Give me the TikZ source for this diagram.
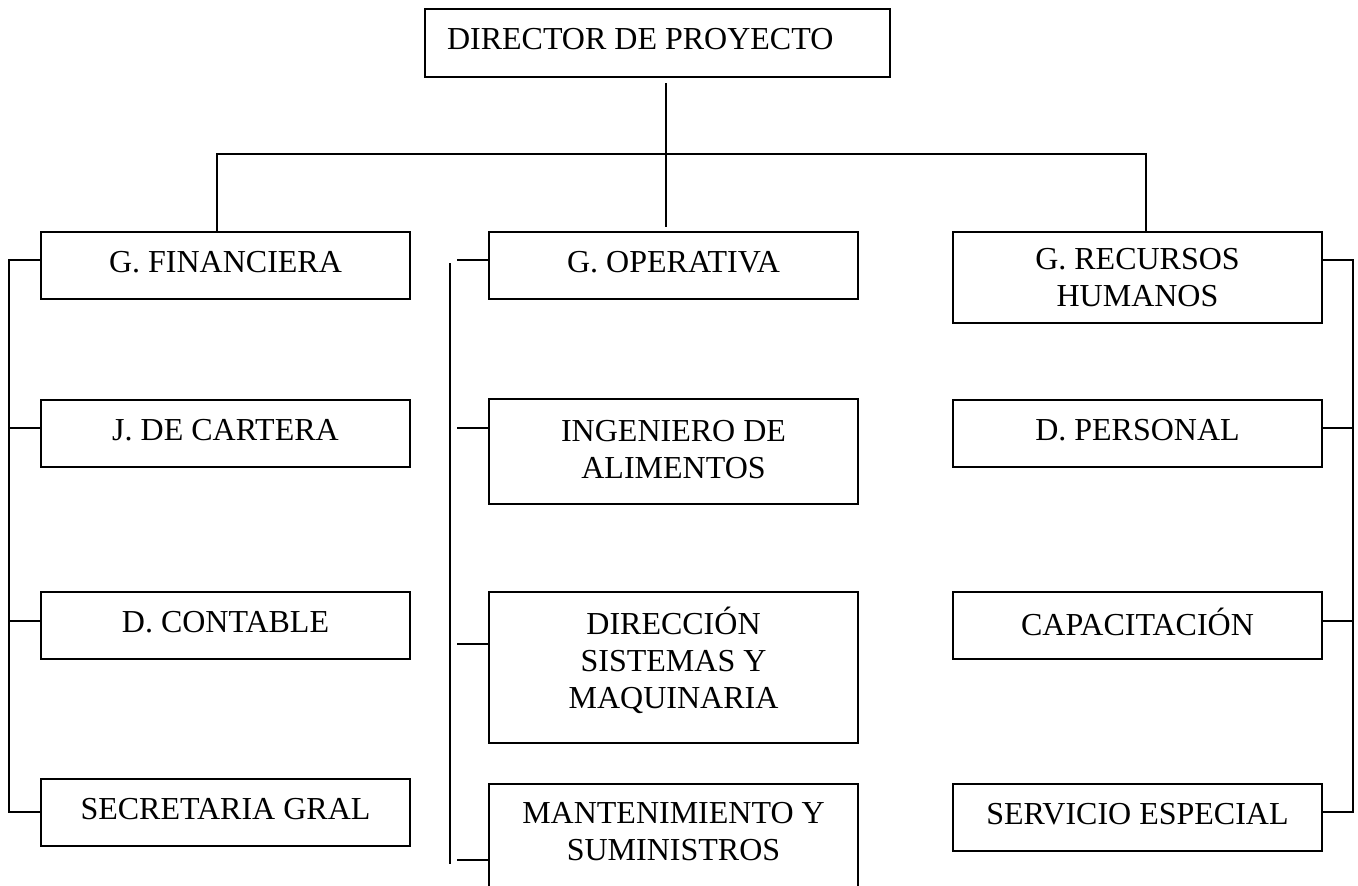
\documentclass[tikz,border=0pt]{standalone}
\usepackage{fontspec}
\setmainfont{Liberation Serif}
\begin{document}
\begin{tikzpicture}[x=0.5pt,y=-0.5pt,line width=1pt,
    every node/.style={font=\fontsize{16}{18.4}\selectfont},
    unit/.style={draw,line width=1pt,minimum width=184.5pt,minimum height=33.5pt,
      align=center,inner sep=0pt},
    onerow/.style={unit,text depth=4pt},
    topunit/.style={draw,line width=1pt,minimum width=232.5pt,minimum height=34pt,
      inner sep=0pt,text depth=4pt}]
      \useasboundingbox (0,0) rectangle (1358,885);
      \clip (0,0) rectangle (1358,885);
      \draw
        (657.5,43) node[topunit] (dir) {\makebox[210.5pt][l]{DIRECTOR DE PROYECTO}}
        (225.5,265.5) node[onerow] (fin) {G. FINANCIERA}
        (225.5,433.5) node[onerow] (cart) {J. DE CARTERA}
        (225.5,625.5) node[onerow] (cont) {D. CONTABLE}
        (225.5,812.5) node[onerow] (secr) {SECRETARIA GRAL}
        (673.5,265.5) node[onerow] (op) {G. OPERATIVA}
        (673.5,451.5) node[unit,minimum height=52.5pt,text depth=2.5pt] (ing) {INGENIERO DE\\ALIMENTOS}
        (673.5,667.5) node[unit,minimum height=75.5pt,text depth=10pt] (dirsis) {DIRECCIÓN\\SISTEMAS Y\\MAQUINARIA}
        (673.5,836.5) node[unit,minimum height=52.5pt,text depth=5pt] (mant) {MANTENIMIENTO Y\\SUMINISTROS}
        (1137.5,277.5) node[unit,minimum height=45.5pt] (rh) {G. RECURSOS\\HUMANOS}
        (1137.5,433.5) node[onerow] (pers) {D. PERSONAL}
        (1137.5,625.5) node[onerow] (cap) {CAPACITACIÓN}
        (1137.5,817.5) node[onerow] (serv) {SERVICIO ESPECIAL};
      \coordinate (hub) at (666,154);
      \coordinate (bl) at (217,154);
      \coordinate (br) at (1146,154);
      \coordinate (l1) at (9,260);
      \coordinate (l2) at (9,428);
      \coordinate (l3) at (9,621);
      \coordinate (l4) at (9,812);
      \coordinate (mtop) at (450,263);
      \coordinate (mbot) at (450,864);
      \coordinate (m1) at (457,260);
      \coordinate (m2) at (457,428);
      \coordinate (m3) at (457,644);
      \coordinate (m4) at (457,860);
      \coordinate (r1) at (1353,260);
      \coordinate (r2) at (1353,428);
      \coordinate (r3) at (1353,621);
      \coordinate (r4) at (1353,812);
      \begin{scope}[-]
        \draw[shorten <=2.5pt,shorten >=2pt] (hub |- dir.south) to (hub |- op.north);
        \draw (bl |- fin.north) to (bl) to (br) to (br |- rh.north);
        \draw (l1 -| fin.west) to (l1) to (l4) to (l4 -| secr.west);
        \draw (l2) to (l2 -| cart.west);
        \draw (l3) to (l3 -| cont.west);
        \draw (mtop) to (mbot);
        \draw (m1) to (m1 -| op.west);
        \draw (m2) to (m2 -| ing.west);
        \draw (m3) to (m3 -| dirsis.west);
        \draw (m4) to (m4 -| mant.west);
        \draw (r1 -| rh.east) to (r1) to (r4) to (r4 -| serv.east);
        \draw (r2) to (r2 -| pers.east);
        \draw (r3) to (r3 -| cap.east);
      \end{scope}
    \end{tikzpicture}
\end{document}
